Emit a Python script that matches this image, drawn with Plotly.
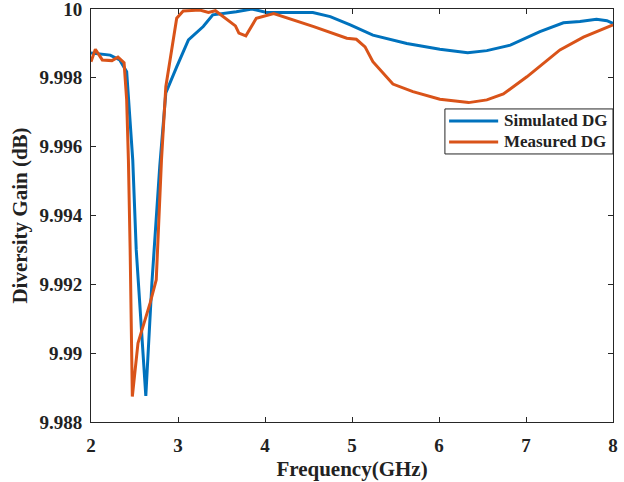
import plotly.graph_objects as go

sim_f = [2.0, 2.22, 2.33, 2.41, 2.48, 2.52, 2.63, 2.70, 2.79, 2.86, 2.985, 3.12, 3.29, 3.40, 3.67, 3.85, 4.02, 4.55, 4.75, 4.98, 5.24, 5.63, 6.01, 6.33, 6.55, 6.82, 7.16, 7.43, 7.62, 7.81, 7.93, 8.0]
sim_dg = [9.99872, 9.99866, 9.99852, 9.99818, 9.99561, 9.9930, 9.98876, 9.99204, 9.99542, 9.99756, 9.99832, 9.9991, 9.99949, 9.99983, 9.99992, 10.0, 9.9999, 9.9999, 9.99978, 9.99954, 9.99924, 9.999, 9.99883, 9.99873, 9.99879, 9.99895, 9.99934, 9.9996, 9.99964, 9.9997, 9.99966, 9.99958]

meas_f = [2.0, 2.05, 2.13, 2.24, 2.31, 2.38, 2.41, 2.43, 2.45, 2.475, 2.54, 2.68, 2.75, 2.81, 2.86, 2.985, 3.06, 3.25, 3.35, 3.43, 3.66, 3.70, 3.78, 3.90, 4.10, 4.56, 4.94, 5.05, 5.15, 5.24, 5.47, 5.70, 6.01, 6.34, 6.55, 6.74, 7.01, 7.39, 7.66, 8.0]
meas_dg = [9.99847, 9.99883, 9.99852, 9.9985, 9.9986, 9.99844, 9.99736, 9.99561, 9.9930, 9.98874, 9.99029, 9.99146, 9.99213, 9.99561, 9.99774, 9.99973, 9.99994, 9.99997, 9.9999, 9.99995, 9.99951, 9.9993, 9.99922, 9.99973, 9.99987, 9.99949, 9.99915, 9.99912, 9.9989, 9.99847, 9.99782, 9.9976, 9.99738, 9.99728, 9.99736, 9.99753, 9.99803, 9.99881, 9.99918, 9.99954]

x_ticks = [2, 3, 4, 5, 6, 7, 8]
y_ticks = [9.988, 9.990, 9.992, 9.994, 9.996, 9.998, 10.0]
y_labels = ["9.988", "9.99", "9.992", "9.994", "9.996", "9.998", "10"]
series_names = ["Simulated DG", "Measured DG"]
series_colors = ["#0072BD", "#D95319"]

font_family = "Liberation Serif"

fig = go.Figure()
for fx, fy, nm, col in [(sim_f, sim_dg, series_names[0], series_colors[0]),
                        (meas_f, meas_dg, series_names[1], series_colors[1])]:
    fig.add_trace(go.Scatter(x=fx, y=fy, mode="lines", name=nm, showlegend=False,
                             line=dict(color=col, width=3)))

axis_common = dict(showline=True, linecolor="#262626", linewidth=1, mirror="ticks",
                   ticks="inside", ticklen=5, tickcolor="#262626", showgrid=False,
                   zeroline=False, ticklabeloverflow="allow", automargin=False,
                   tickfont=dict(family=font_family, size=19, color="#222"))

fig.update_xaxes(range=[2, 8], tickvals=x_ticks, ticktext=[f"<b>{v}</b>" for v in x_ticks],
                 ticklabelstandoff=6,
                 title=dict(text="<b>Frequency(GHz)</b>", font=dict(family=font_family, size=21, color="#222"), standoff=6),
                 **axis_common)
fig.update_yaxes(range=[9.988, 10.0], tickvals=y_ticks, ticktext=[f"<b>{v}</b>" for v in y_labels],
                 ticklabelstandoff=4,
                 title=dict(text="<b>Diversity Gain (dB)</b>", font=dict(family=font_family, size=21, color="#222"), standoff=6),
                 **axis_common)

# Manual legend (box, line samples, labels) in paper coordinates
leg_x0, leg_x1, leg_y0, leg_y1 = 0.678, 1.0, 0.649, 0.758
sample_x0, sample_x1, text_x = 0.686, 0.780, 0.787
row_y = [0.729, 0.678]
fig.add_shape(type="rect", xref="paper", yref="paper", x0=leg_x0, x1=leg_x1, y0=leg_y0, y1=leg_y1,
              fillcolor="white", line=dict(color="#262626", width=1), layer="above")
for i in range(2):
    fig.add_shape(type="line", xref="paper", yref="paper", x0=sample_x0, x1=sample_x1,
                  y0=row_y[i], y1=row_y[i], line=dict(color=series_colors[i], width=3), layer="above")
    fig.add_annotation(xref="paper", yref="paper", x=text_x, y=row_y[i], xanchor="left", yanchor="middle",
                       text=f"<b>{series_names[i]}</b>", showarrow=False,
                       font=dict(family=font_family, size=17, color="#222"))

fig.update_layout(
    width=624, height=482,
    margin=dict(l=91, r=11, t=9, b=60, autoexpand=False),
    plot_bgcolor="white", paper_bgcolor="white",
    font=dict(family=font_family, color="#222"),
    showlegend=False,
)

fig.write_html("out.html")
